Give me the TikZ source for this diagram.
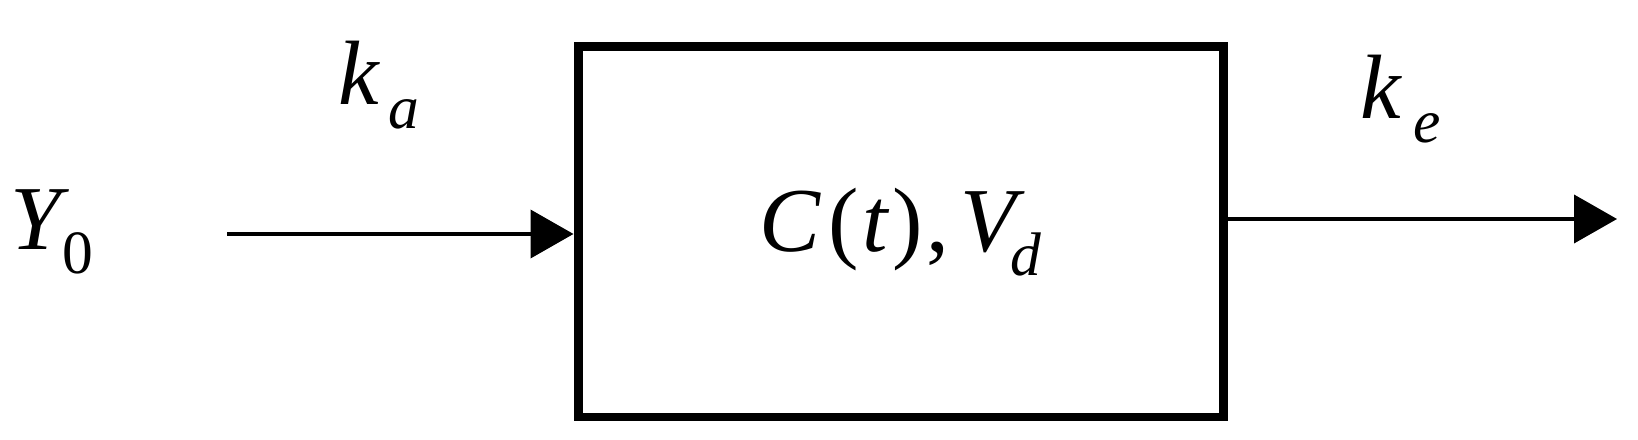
\documentclass[tikz,border=0pt]{standalone}
\usepackage{fontspec}
\setmainfont{Liberation Serif}[ItalicFont={Liberation Serif Italic}]
\usetikzlibrary{arrows.meta}
\newcommand\lowsub[2][0pt]{\kern#1\raisebox{-0.26em}{\fontsize{17.5}{20}\selectfont #2}}
\begin{document}
\begin{tikzpicture}[
    every node/.style={inner sep=0pt, font=\fontsize{26}{30}\selectfont},
    compbox/.style={draw, line width=0.09cm, minimum width=6.45cm, minimum height=3.7cm},
    flow/.style={line width=0.04cm, -{Triangle[length=0.43cm, width=0.48cm]}}]
    \useasboundingbox (0,0) rectangle (16.38,4.39);
    \node[compbox] (comp) at (9.005,2.07) {\textit{C}\kern2pt(\kern1pt\textit{t}\kern1pt)\kern1pt,\kern3pt\textit{V}\lowsub[-4pt]{\textit{d}}};
    \node[anchor=base west] (y0) at (0.10,1.89) {\textit{Y}\lowsub[-2pt]{0}};
    \node[anchor=base west] (ka) at (3.38,3.34) {\textit{k}\lowsub[2.3pt]{\textit{a}}};
    \node[anchor=base west] (ke) at (13.60,3.20) {\textit{k}\lowsub[3pt]{\textit{e}}};
    \coordinate (in) at (2.27,2.05);
    \coordinate (out) at (16.17,2.20);
    \draw[flow] (in) -- (in -| comp.west);
    \draw[flow] (out -| comp.east) -- (out);
\end{tikzpicture}
\end{document}
